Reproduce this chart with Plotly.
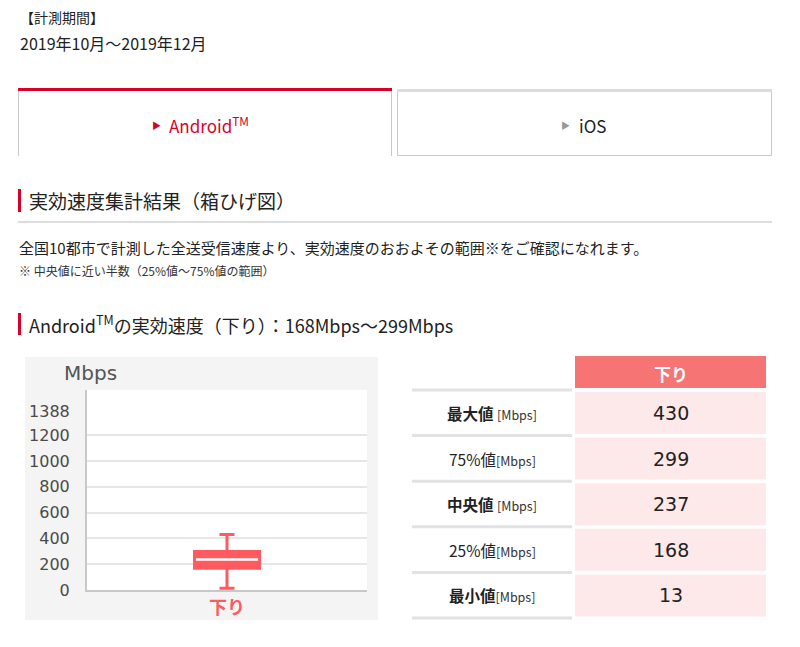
import plotly.graph_objects as go

# ---------------- data ----------------
series_name = "下り"
stat_labels = ["最大値", "75%値", "中央値", "25%値", "最小値"]
stat_bold = [True, False, True, False, True]
stat_gap = [" ", "", " ", "", ""]
stat_values = [430, 299, 237, 168, 13]   # max, q3, median, q1, min
y_tick_vals = [0, 200, 400, 600, 800, 1000, 1200, 1388]
grid_vals = [200, 400, 600, 800, 1000, 1200]
y_max = 1550
period_title = "【計測期間】"
period_text = "2019年10月～2019年12月"
tabs = ["Android<sup>TM</sup>", "iOS"]
unit = "Mbps"

W, H = 800, 647
def px(x): return x / W
def py(y): return 1 - y / H

RED = "#d6002a"
BOX = "#ff5a5f"
FONT_JP = "Noto Sans CJK JP"
FONT_NUM = "DejaVu Sans"

vmax, q3, med, q1, vmin = stat_values
box_w = 0.464

fig = go.Figure()
fig.add_trace(go.Box(
    x=[0], q1=[q1], median=[med], q3=[q3], lowerfence=[vmin], upperfence=[vmax],
    width=box_w, whiskerwidth=0.23, fillcolor=BOX,
    line=dict(color=BOX, width=3), boxpoints=False, hoverinfo="skip", showlegend=False))
fig.add_trace(go.Scatter(
    x=[-box_w / 2 + 0.01, box_w / 2 - 0.01], y=[med, med], mode="lines",
    line=dict(color="white", width=2.5), hoverinfo="skip", showlegend=False))

shapes = []
def rect(x0, y0, x1, y1, fill, line_color=None, lw=0):
    shapes.append(dict(type="rect", xref="paper", yref="paper",
                       x0=px(x0), x1=px(x1), y0=py(y1), y1=py(y0),
                       fillcolor=fill, line=dict(color=line_color or fill, width=lw),
                       layer="below"))

def line(x0, y0, x1, y1, color, w):
    shapes.append(dict(type="line", xref="paper", yref="paper",
                       x0=px(x0), x1=px(x1), y0=py(y0), y1=py(y1),
                       line=dict(color=color, width=w), layer="below"))

# tabs
line(18.5, 88, 18.5, 156, "#c8c8c8", 1)
line(391.5, 88, 391.5, 156, "#c8c8c8", 1)
rect(18, 88, 392, 91, RED)
rect(397.5, 89.5, 771.5, 155.5, "rgba(0,0,0,0)", "#c8c8c8", 1)
rect(397, 89, 772, 92, "#dcdcdc")

# headings
rect(18, 189, 21, 212, RED)
line(18, 222, 772, 222, "#dddddd", 2)
rect(18, 313, 21, 335, RED)

# chart panel
rect(25, 357, 378, 620, "#f4f4f4")
rect(87, 390, 367, 590, "#ffffff")

# table
hx0, hx1 = 575, 766
rect(hx0, 356, hx1, 388, "#f77474")
row_top = 392
pitch = 45.6
cell_h = 42
for i in range(len(stat_values)):
    y0 = row_top + i * pitch
    rect(hx0, y0, hx1, y0 + cell_h, "#fde9e9")
    rect(412, y0 - 3.5, 572, y0 - 0.5, "#e2e2e2")
rect(412, row_top + len(stat_values) * pitch - 3.5, 572, row_top + len(stat_values) * pitch - 0.5, "#e2e2e2")

ann = []
def text(x, y, s, size, color="#222222", family=FONT_JP, xanchor="left"):
    ann.append(dict(xref="paper", yref="paper", x=px(x), y=py(y), text=s, showarrow=False,
                    xanchor=xanchor, yanchor="middle",
                    font=dict(size=size, color=color, family=family)))

text(18, 17, period_title, 14)
text(18, 43, period_text, 16)

text(156, 126, "▶", 9, RED, xanchor="center")
text(167, 125, tabs[0], 17, RED)
text(565, 126, "▶", 9, "#999999", xanchor="center")
text(577, 126, tabs[1], 17, "#222222")

text(27, 201, "実効速度集計結果（箱ひげ図）", 19)
text(17, 248, "全国10都市で計測した全送受信速度より、実効速度のおおよその範囲※をご確認になれます。", 15)
text(17, 270, "※ 中央値に近い半数（25%値～75%値の範囲）", 12, "#333333")
text(27, 324, f"Android<sup>TM</sup>の実効速度（{series_name}）：{q1}{unit}～{q3}{unit}", 18)

text(62, 373, unit, 20, "#555555", FONT_NUM)

text((hx0 + hx1) / 2, 373, f"<b>{series_name}</b>", 17, "#ffffff", xanchor="center")
for i, (lab, b, gap, v) in enumerate(zip(stat_labels, stat_bold, stat_gap, stat_values)):
    yc = row_top + i * pitch + cell_h / 2
    lab_html = f"<b>{lab}</b>" if b else lab
    text(492, yc, f"{lab_html}{gap}<span style='font-size:12.5px;color:#333'>[{unit}]</span>", 15.5,
         "#222222", xanchor="center")
    text(671, yc, str(v), 19, "#222222", FONT_NUM, xanchor="center")

fig.update_layout(
    width=W, height=H, margin=dict(l=0, r=0, t=0, b=0, autoexpand=False),
    paper_bgcolor="white", plot_bgcolor="rgba(0,0,0,0)",
    shapes=shapes, annotations=ann, showlegend=False,
    xaxis=dict(domain=[px(87), px(367)], range=[-1, 1], tickvals=[0], automargin=False,
               ticktext=[f"<b>{series_name}</b>"], showgrid=False, zeroline=False,
               showline=True, linecolor="#c8c8c8", linewidth=2, ticks="",
               tickfont=dict(size=18, color=BOX, family=FONT_JP), fixedrange=True),
    yaxis=dict(domain=[py(590), py(390)], range=[0, y_max], tickvals=y_tick_vals,
               automargin=False,
               showgrid=False, zeroline=False, showline=True, linecolor="#c8c8c8",
               linewidth=2, ticks="", ticklabelstandoff=12,
               tickfont=dict(size=16, color="#4a4a4a", family=FONT_NUM),
               minor=dict(tickvals=grid_vals, showgrid=True, gridcolor="#e6e6e6",
                          gridwidth=2, ticks=""), fixedrange=True),
)

fig.write_html("out.html")
